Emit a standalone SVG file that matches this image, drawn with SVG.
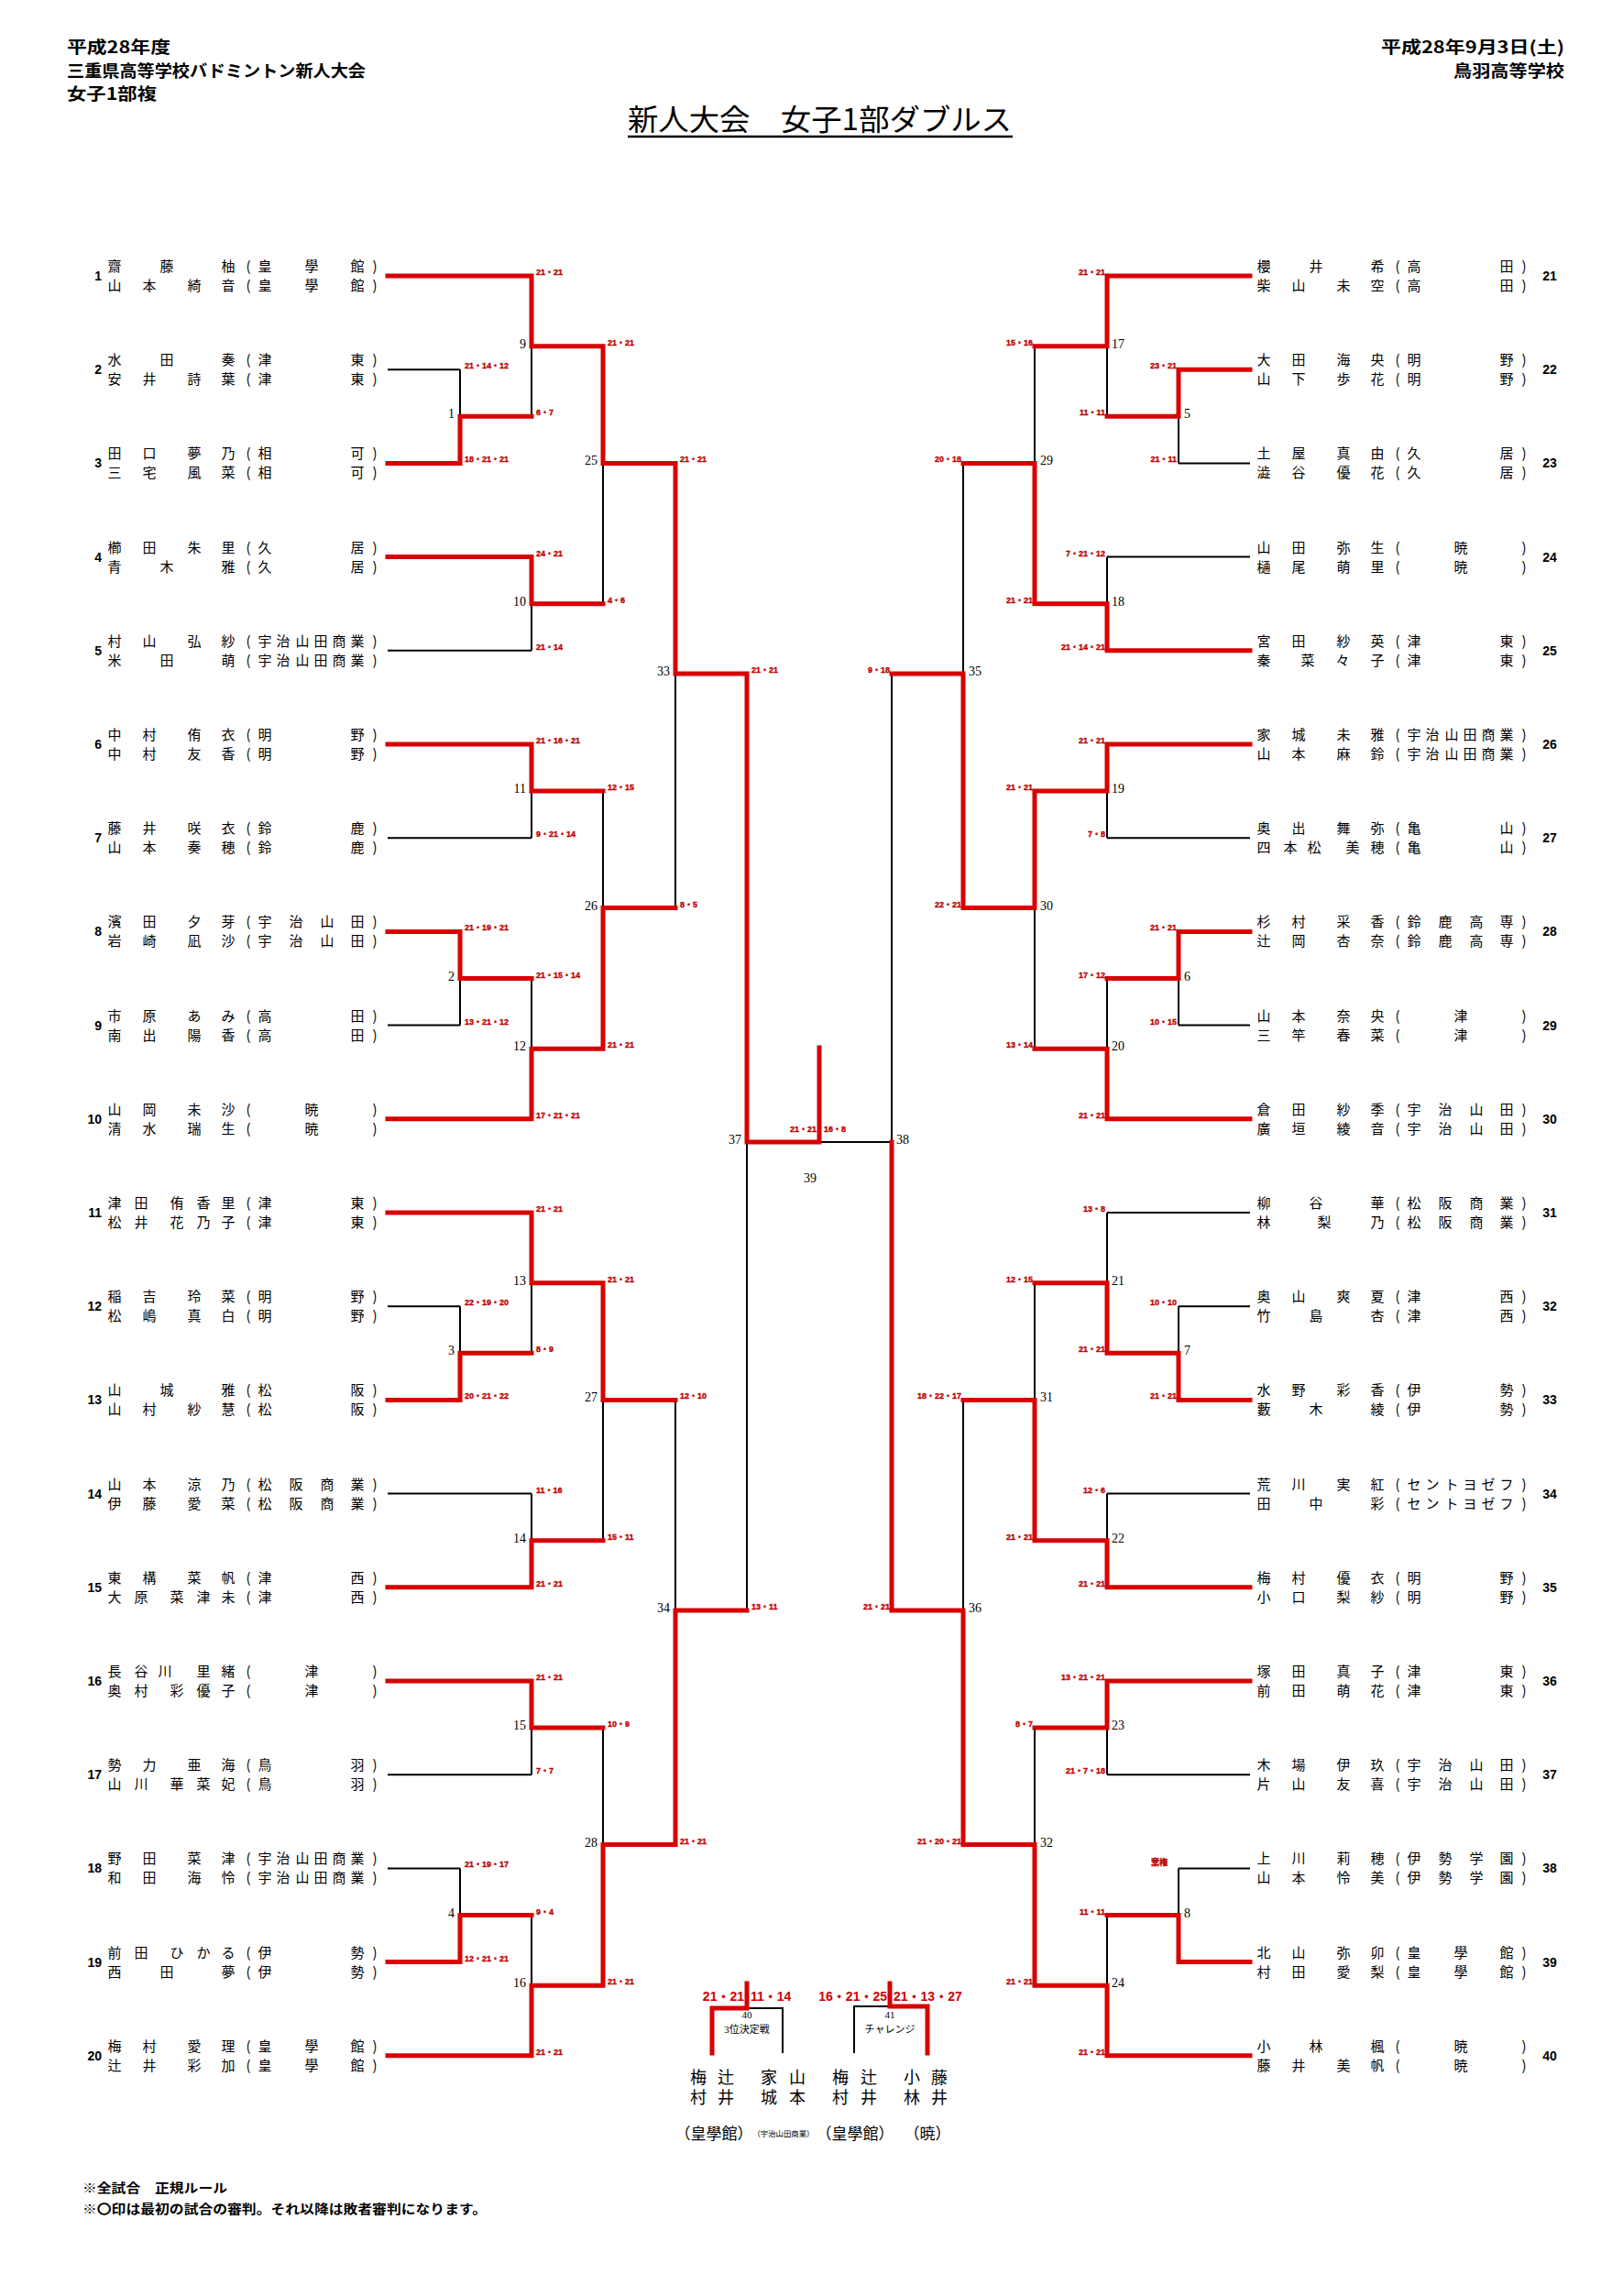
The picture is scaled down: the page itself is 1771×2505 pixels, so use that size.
<svg xmlns="http://www.w3.org/2000/svg" width="1771" height="2505" viewBox="0 0 1771 2505">
<style>
.bg{fill:#fff}
.hd{font-family:"Noto Sans CJK JP",sans-serif;font-weight:bold;font-size:18px;fill:#000}
.tt{font-family:"Noto Sans CJK JP",sans-serif;font-size:32px;fill:#000}
.nm{font-family:"Noto Sans CJK JP",sans-serif;font-size:15px;fill:#000;text-anchor:middle}
.nl{font-family:"Liberation Sans",Arial,sans-serif;font-weight:bold;font-size:14px;fill:#000;text-anchor:end}
.nr{font-family:"Liberation Sans",Arial,sans-serif;font-weight:bold;font-size:14px;fill:#000;text-anchor:middle}
.mn{font-family:"Liberation Serif","Times New Roman",serif;font-size:14px;fill:#000}
.me{text-anchor:end}
.sc{font-family:"Liberation Sans","Noto Sans CJK JP",sans-serif;font-weight:bold;font-size:9px;fill:#c00000;stroke:#c00000;stroke-width:0.35}
.se{text-anchor:end}
.bs{font-family:"Liberation Sans","Noto Sans CJK JP",sans-serif;font-weight:bold;font-size:14px;fill:#d00000}
.bl{font-family:"Liberation Serif","Noto Sans CJK JP",serif;font-size:11px;fill:#000;text-anchor:middle}
.bn{font-family:"Noto Sans CJK JP",sans-serif;font-size:18px;fill:#000;text-anchor:middle}
.bsch{font-family:"Noto Sans CJK JP",sans-serif;font-size:17px;fill:#000;text-anchor:middle}
.ft{font-family:"Noto Sans CJK JP",sans-serif;font-weight:bold;font-size:14px;fill:#000}
.k{fill:none;stroke:#000;stroke-width:2}
.r{fill:none;stroke:#d80000;stroke-width:5;stroke-linecap:square;stroke-linejoin:miter}
</style>
<rect class="bg" x="0" y="0" width="1771" height="2505"/>

<g id="header">
<text class="hd" x="73" y="58" textLength="113" lengthAdjust="spacingAndGlyphs">平成28年度</text>
<text class="hd" x="73" y="84" textLength="326" lengthAdjust="spacingAndGlyphs">三重県高等学校バドミントン新人大会</text>
<text class="hd" x="73" y="109" textLength="98" lengthAdjust="spacingAndGlyphs">女子1部複</text>
<text class="hd" x="1507" y="58" textLength="200" lengthAdjust="spacingAndGlyphs">平成28年9月3日(土)</text>
<text class="hd" x="1586" y="84" textLength="121" lengthAdjust="spacingAndGlyphs">鳥羽高等学校</text>
<text class="tt" x="685" y="142" textLength="419" lengthAdjust="spacingAndGlyphs">新人大会　女子1部ダブルス</text>
<line x1="685" y1="149" x2="1105" y2="149" stroke="#000" stroke-width="2.5"/>
</g>

<!-- Left entries -->
<g id="e1" transform="translate(0,301)"><text class="nl" x="111" y="5">1</text><text class="nm" x="125 182 249 271 289 340 390 409" y="-5">齋藤柚(皇學館)</text><text class="nm" x="125 163 212 249 271 289 340 390 409" y="16">山本綺音(皇學館)</text></g>
<g id="e2" transform="translate(0,403.2)"><text class="nl" x="111" y="5">2</text><text class="nm" x="125 182 249 271 289 390 409" y="-5">水田奏(津東)</text><text class="nm" x="125 163 212 249 271 289 390 409" y="16">安井詩葉(津東)</text></g>
<g id="e3" transform="translate(0,505.4)"><text class="nl" x="111" y="5">3</text><text class="nm" x="125 163 212 249 271 289 390 409" y="-5">田口夢乃(相可)</text><text class="nm" x="125 163 212 249 271 289 390 409" y="16">三宅風菜(相可)</text></g>
<g id="e4" transform="translate(0,607.6)"><text class="nl" x="111" y="5">4</text><text class="nm" x="125 163 212 249 271 289 390 409" y="-5">櫛田朱里(久居)</text><text class="nm" x="125 182 249 271 289 390 409" y="16">青木雅(久居)</text></g>
<g id="e5" transform="translate(0,709.8)"><text class="nl" x="111" y="5">5</text><text class="nm" x="125 163 212 249 271 289 309 330 350 370 390 409" y="-5">村山弘紗(宇治山田商業)</text><text class="nm" x="125 182 249 271 289 309 330 350 370 390 409" y="16">米田萌(宇治山田商業)</text></g>
<g id="e6" transform="translate(0,812)"><text class="nl" x="111" y="5">6</text><text class="nm" x="125 163 212 249 271 289 390 409" y="-5">中村侑衣(明野)</text><text class="nm" x="125 163 212 249 271 289 390 409" y="16">中村友香(明野)</text></g>
<g id="e7" transform="translate(0,914.2)"><text class="nl" x="111" y="5">7</text><text class="nm" x="125 163 212 249 271 289 390 409" y="-5">藤井咲衣(鈴鹿)</text><text class="nm" x="125 163 212 249 271 289 390 409" y="16">山本奏穂(鈴鹿)</text></g>
<g id="e8" transform="translate(0,1016.4)"><text class="nl" x="111" y="5">8</text><text class="nm" x="125 163 212 249 271 289 323 357 390 409" y="-5">濱田夕芽(宇治山田)</text><text class="nm" x="125 163 212 249 271 289 323 357 390 409" y="16">岩崎凪沙(宇治山田)</text></g>
<g id="e9" transform="translate(0,1118.6)"><text class="nl" x="111" y="5">9</text><text class="nm" x="125 163 212 249 271 289 390 409" y="-5">市原あみ(高田)</text><text class="nm" x="125 163 212 249 271 289 390 409" y="16">南出陽香(高田)</text></g>
<g id="e10" transform="translate(0,1220.8)"><text class="nl" x="111" y="5">10</text><text class="nm" x="125 163 212 249 271 340 409" y="-5">山岡未沙(暁)</text><text class="nm" x="125 163 212 249 271 340 409" y="16">清水瑞生(暁)</text></g>
<g id="e11" transform="translate(0,1323)"><text class="nl" x="111" y="5">11</text><text class="nm" x="125 154 193 222 249 271 289 390 409" y="-5">津田侑香里(津東)</text><text class="nm" x="125 154 193 222 249 271 289 390 409" y="16">松井花乃子(津東)</text></g>
<g id="e12" transform="translate(0,1425.2)"><text class="nl" x="111" y="5">12</text><text class="nm" x="125 163 212 249 271 289 390 409" y="-5">稲吉玲菜(明野)</text><text class="nm" x="125 163 212 249 271 289 390 409" y="16">松嶋真白(明野)</text></g>
<g id="e13" transform="translate(0,1527.4)"><text class="nl" x="111" y="5">13</text><text class="nm" x="125 182 249 271 289 390 409" y="-5">山城雅(松阪)</text><text class="nm" x="125 163 212 249 271 289 390 409" y="16">山村紗慧(松阪)</text></g>
<g id="e14" transform="translate(0,1629.6)"><text class="nl" x="111" y="5">14</text><text class="nm" x="125 163 212 249 271 289 323 357 390 409" y="-5">山本涼乃(松阪商業)</text><text class="nm" x="125 163 212 249 271 289 323 357 390 409" y="16">伊藤愛菜(松阪商業)</text></g>
<g id="e15" transform="translate(0,1731.8)"><text class="nl" x="111" y="5">15</text><text class="nm" x="125 163 212 249 271 289 390 409" y="-5">東構菜帆(津西)</text><text class="nm" x="125 154 193 222 249 271 289 390 409" y="16">大原菜津未(津西)</text></g>
<g id="e16" transform="translate(0,1834)"><text class="nl" x="111" y="5">16</text><text class="nm" x="125 154 180 222 249 271 340 409" y="-5">長谷川里緒(津)</text><text class="nm" x="125 154 193 222 249 271 340 409" y="16">奥村彩優子(津)</text></g>
<g id="e17" transform="translate(0,1936.2)"><text class="nl" x="111" y="5">17</text><text class="nm" x="125 163 212 249 271 289 390 409" y="-5">勢力亜海(鳥羽)</text><text class="nm" x="125 154 193 222 249 271 289 390 409" y="16">山川華菜妃(鳥羽)</text></g>
<g id="e18" transform="translate(0,2038.4)"><text class="nl" x="111" y="5">18</text><text class="nm" x="125 163 212 249 271 289 309 330 350 370 390 409" y="-5">野田菜津(宇治山田商業)</text><text class="nm" x="125 163 212 249 271 289 309 330 350 370 390 409" y="16">和田海怜(宇治山田商業)</text></g>
<g id="e19" transform="translate(0,2140.6)"><text class="nl" x="111" y="5">19</text><text class="nm" x="125 154 193 222 249 271 289 390 409" y="-5">前田ひかる(伊勢)</text><text class="nm" x="125 182 249 271 289 390 409" y="16">西田夢(伊勢)</text></g>
<g id="e20" transform="translate(0,2242.8)"><text class="nl" x="111" y="5">20</text><text class="nm" x="125 163 212 249 271 289 340 390 409" y="-5">梅村愛理(皇學館)</text><text class="nm" x="125 163 212 249 271 289 340 390 409" y="16">辻井彩加(皇學館)</text></g>

<!-- Right entries -->
<g id="e21" transform="translate(1254,301)"><text class="nr" x="437" y="5">21</text><text class="nm" x="125 182 249 271 289 390 409" y="-5">櫻井希(高田)</text><text class="nm" x="125 163 212 249 271 289 390 409" y="16">柴山未空(高田)</text></g>
<g id="e22" transform="translate(1254,403.2)"><text class="nr" x="437" y="5">22</text><text class="nm" x="125 163 212 249 271 289 390 409" y="-5">大田海央(明野)</text><text class="nm" x="125 163 212 249 271 289 390 409" y="16">山下歩花(明野)</text></g>
<g id="e23" transform="translate(1254,505.4)"><text class="nr" x="437" y="5">23</text><text class="nm" x="125 163 212 249 271 289 390 409" y="-5">土屋真由(久居)</text><text class="nm" x="125 163 212 249 271 289 390 409" y="16">澁谷優花(久居)</text></g>
<g id="e24" transform="translate(1254,607.6)"><text class="nr" x="437" y="5">24</text><text class="nm" x="125 163 212 249 271 340 409" y="-5">山田弥生(暁)</text><text class="nm" x="125 163 212 249 271 340 409" y="16">樋尾萌里(暁)</text></g>
<g id="e25" transform="translate(1254,709.8)"><text class="nr" x="437" y="5">25</text><text class="nm" x="125 163 212 249 271 289 390 409" y="-5">宮田紗英(津東)</text><text class="nm" x="125 173 211 249 271 289 390 409" y="16">秦菜々子(津東)</text></g>
<g id="e26" transform="translate(1254,812)"><text class="nr" x="437" y="5">26</text><text class="nm" x="125 163 212 249 271 289 309 330 350 370 390 409" y="-5">家城未雅(宇治山田商業)</text><text class="nm" x="125 163 212 249 271 289 309 330 350 370 390 409" y="16">山本麻鈴(宇治山田商業)</text></g>
<g id="e27" transform="translate(1254,914.2)"><text class="nr" x="437" y="5">27</text><text class="nm" x="125 163 212 249 271 289 390 409" y="-5">奥出舞弥(亀山)</text><text class="nm" x="125 154 180 222 249 271 289 390 409" y="16">四本松美穂(亀山)</text></g>
<g id="e28" transform="translate(1254,1016.4)"><text class="nr" x="437" y="5">28</text><text class="nm" x="125 163 212 249 271 289 323 357 390 409" y="-5">杉村采香(鈴鹿高専)</text><text class="nm" x="125 163 212 249 271 289 323 357 390 409" y="16">辻岡杏奈(鈴鹿高専)</text></g>
<g id="e29" transform="translate(1254,1118.6)"><text class="nr" x="437" y="5">29</text><text class="nm" x="125 163 212 249 271 340 409" y="-5">山本奈央(津)</text><text class="nm" x="125 163 212 249 271 340 409" y="16">三竿春菜(津)</text></g>
<g id="e30" transform="translate(1254,1220.8)"><text class="nr" x="437" y="5">30</text><text class="nm" x="125 163 212 249 271 289 323 357 390 409" y="-5">倉田紗季(宇治山田)</text><text class="nm" x="125 163 212 249 271 289 323 357 390 409" y="16">廣垣綾音(宇治山田)</text></g>
<g id="e31" transform="translate(1254,1323)"><text class="nr" x="437" y="5">31</text><text class="nm" x="125 182 249 271 289 323 357 390 409" y="-5">柳谷華(松阪商業)</text><text class="nm" x="125 191 249 271 289 323 357 390 409" y="16">林梨乃(松阪商業)</text></g>
<g id="e32" transform="translate(1254,1425.2)"><text class="nr" x="437" y="5">32</text><text class="nm" x="125 163 212 249 271 289 390 409" y="-5">奥山爽夏(津西)</text><text class="nm" x="125 182 249 271 289 390 409" y="16">竹島杏(津西)</text></g>
<g id="e33" transform="translate(1254,1527.4)"><text class="nr" x="437" y="5">33</text><text class="nm" x="125 163 212 249 271 289 390 409" y="-5">水野彩香(伊勢)</text><text class="nm" x="125 182 249 271 289 390 409" y="16">藪木綾(伊勢)</text></g>
<g id="e34" transform="translate(1254,1629.6)"><text class="nr" x="437" y="5">34</text><text class="nm" x="125 163 212 249 271 289 309 330 350 370 390 409" y="-5">荒川実紅(セントヨゼフ)</text><text class="nm" x="125 182 249 271 289 309 330 350 370 390 409" y="16">田中彩(セントヨゼフ)</text></g>
<g id="e35" transform="translate(1254,1731.8)"><text class="nr" x="437" y="5">35</text><text class="nm" x="125 163 212 249 271 289 390 409" y="-5">梅村優衣(明野)</text><text class="nm" x="125 163 212 249 271 289 390 409" y="16">小口梨紗(明野)</text></g>
<g id="e36" transform="translate(1254,1834)"><text class="nr" x="437" y="5">36</text><text class="nm" x="125 163 212 249 271 289 390 409" y="-5">塚田真子(津東)</text><text class="nm" x="125 163 212 249 271 289 390 409" y="16">前田萌花(津東)</text></g>
<g id="e37" transform="translate(1254,1936.2)"><text class="nr" x="437" y="5">37</text><text class="nm" x="125 163 212 249 271 289 323 357 390 409" y="-5">木場伊玖(宇治山田)</text><text class="nm" x="125 163 212 249 271 289 323 357 390 409" y="16">片山友喜(宇治山田)</text></g>
<g id="e38" transform="translate(1254,2038.4)"><text class="nr" x="437" y="5">38</text><text class="nm" x="125 163 212 249 271 289 323 357 390 409" y="-5">上川莉穂(伊勢学園)</text><text class="nm" x="125 163 212 249 271 289 323 357 390 409" y="16">山本怜美(伊勢学園)</text></g>
<g id="e39" transform="translate(1254,2140.6)"><text class="nr" x="437" y="5">39</text><text class="nm" x="125 163 212 249 271 289 340 390 409" y="-5">北山弥卯(皇學館)</text><text class="nm" x="125 163 212 249 271 289 340 390 409" y="16">村田愛梨(皇學館)</text></g>
<g id="e40" transform="translate(1254,2242.8)"><text class="nr" x="437" y="5">40</text><text class="nm" x="125 182 249 271 340 409" y="-5">小林楓(暁)</text><text class="nm" x="125 163 212 249 271 340 409" y="16">藤井美帆(暁)</text></g>

<g id="connectors">
<path class="k" d="M423,403.2H502 M423,709.8H580 M423,914.2H580 M423,1118.6H502 M423,1425.2H502 M423,1629.6H580 M423,1936.2H580 M423,2038.4H502
M502,403.2V454.3 M502,1067.5V1118.6 M502,1425.2V1476.3 M502,2038.4V2089.5
M580,377.65V454.3 M580,658.7V709.8 M580,863.1V914.2 M580,1067.5V1144.15 M580,1399.65V1476.3 M580,1629.6V1680.7 M580,1885.1V1936.2 M580,2089.5V2166.15
M658,505.4V658.7 M658,863.1V990.6 M658,1527.4V1680.7 M658,1885.1V2012.6
M737,735V990.6 M737,1527.4V1757 M815,1246V1757 M894,1246H973
M1364,505.4H1286 M1364,607.6H1208 M1364,914.2H1208 M1364,1118.6H1286 M1364,1323H1208 M1364,1425.2H1286 M1364,1629.6H1208 M1364,1936.2H1208 M1364,2038.4H1286
M1286,454.3V505.4 M1286,1067.5V1118.6 M1286,1425.2V1476.3 M1286,2038.4V2089.5
M1208,377.65V454.3 M1208,607.6V658.7 M1208,863.1V914.2 M1208,1067.5V1144.15 M1208,1323V1399.65 M1208,1629.6V1680.7 M1208,1885.1V1936.2 M1208,2089.5V2166.15
M1129,377.65V505.4 M1129,990.6V1144.15 M1129,1399.65V1527.4 M1129,1885.1V2012.6
M1051,505.4V735 M1051,1527.4V1757 M973,735V1246"/>
<path class="r" d="M423,301H580V377.65H658V505.4H737V735H815V1246H894V1143"/>
<path class="r" d="M423,505.4H502V454.3H580"/>
<path class="r" d="M423,607.6H580V658.7H658"/>
<path class="r" d="M423,812H580V863.1H658"/>
<path class="r" d="M423,1016.4H502V1067.5H580"/>
<path class="r" d="M423,1220.8H580V1144.15H658V990.6H737"/>
<path class="r" d="M423,1323H580V1399.65H658V1527.4H737"/>
<path class="r" d="M423,1527.4H502V1476.3H580"/>
<path class="r" d="M423,1731.8H580V1680.7H658"/>
<path class="r" d="M423,1834H580V1885.1H658"/>
<path class="r" d="M423,2140.6H502V2089.5H580"/>
<path class="r" d="M423,2242.8H580V2166.15H658V2012.6H737V1757H815"/>
<path class="r" d="M1364,301H1208V377.65H1129"/>
<path class="r" d="M1364,403.2H1286V454.3H1208"/>
<path class="r" d="M1364,709.8H1208V658.7H1129V505.4H1051"/>
<path class="r" d="M1364,812H1208V863.1H1129V990.6H1051V735H973"/>
<path class="r" d="M1364,1016.4H1286V1067.5H1208"/>
<path class="r" d="M1364,1220.8H1208V1144.15H1129"/>
<path class="r" d="M1364,1527.4H1286V1476.3H1208V1399.65H1129"/>
<path class="r" d="M1364,1731.8H1208V1680.7H1129V1527.4H1051"/>
<path class="r" d="M1364,1834H1208V1885.1H1129"/>
<path class="r" d="M1364,2140.6H1286V2089.5H1208"/>
<path class="r" d="M1364,2242.8H1208V2166.15H1129V2012.6H1051V1757H973V1246"/>
<path class="k" d="M815,2191H854V2240 M932,2240V2189H971"/>
<path class="r" d="M777,2240V2191H815V2164"/>
<path class="r" d="M1012,2240V2189H971V2164"/>
</g>

<!-- Left matches -->
<g id="m1"><text class="mn me" x="496" y="456.3">1</text><text class="sc" x="507" y="402.2">21・14・12</text><text class="sc" x="507" y="504.4">18・21・21</text></g>
<g id="m2"><text class="mn me" x="496" y="1069.5">2</text><text class="sc" x="507" y="1015.4">21・19・21</text><text class="sc" x="507" y="1117.6">13・21・12</text></g>
<g id="m3"><text class="mn me" x="496" y="1478.3">3</text><text class="sc" x="507" y="1424.2">22・19・20</text><text class="sc" x="507" y="1526.4">20・21・22</text></g>
<g id="m4"><text class="mn me" x="496" y="2091.5">4</text><text class="sc" x="507" y="2037.4">21・19・17</text><text class="sc" x="507" y="2139.6">12・21・21</text></g>
<g id="m9"><text class="mn me" x="574" y="379.65">9</text><text class="sc" x="585" y="300">21・21</text><text class="sc" x="585" y="453.3">6・7</text></g>
<g id="m10"><text class="mn me" x="574" y="660.7">10</text><text class="sc" x="585" y="606.6">24・21</text><text class="sc" x="585" y="708.8">21・14</text></g>
<g id="m11"><text class="mn me" x="574" y="865.1">11</text><text class="sc" x="585" y="811">21・16・21</text><text class="sc" x="585" y="913.2">9・21・14</text></g>
<g id="m12"><text class="mn me" x="574" y="1146.15">12</text><text class="sc" x="585" y="1066.5">21・15・14</text><text class="sc" x="585" y="1219.8">17・21・21</text></g>
<g id="m13"><text class="mn me" x="574" y="1401.65">13</text><text class="sc" x="585" y="1322">21・21</text><text class="sc" x="585" y="1475.3">8・9</text></g>
<g id="m14"><text class="mn me" x="574" y="1682.7">14</text><text class="sc" x="585" y="1628.6">11・16</text><text class="sc" x="585" y="1730.8">21・21</text></g>
<g id="m15"><text class="mn me" x="574" y="1887.1">15</text><text class="sc" x="585" y="1833">21・21</text><text class="sc" x="585" y="1935.2">7・7</text></g>
<g id="m16"><text class="mn me" x="574" y="2168.15">16</text><text class="sc" x="585" y="2088.5">9・4</text><text class="sc" x="585" y="2241.8">21・21</text></g>
<g id="m25"><text class="mn me" x="652" y="507.4">25</text><text class="sc" x="663" y="376.65">21・21</text><text class="sc" x="663" y="657.7">4・6</text></g>
<g id="m26"><text class="mn me" x="652" y="992.6">26</text><text class="sc" x="663" y="862.1">12・15</text><text class="sc" x="663" y="1143.15">21・21</text></g>
<g id="m27"><text class="mn me" x="652" y="1529.4">27</text><text class="sc" x="663" y="1398.65">21・21</text><text class="sc" x="663" y="1679.7">15・11</text></g>
<g id="m28"><text class="mn me" x="652" y="2014.6">28</text><text class="sc" x="663" y="1884.1">10・9</text><text class="sc" x="663" y="2165.15">21・21</text></g>
<g id="m33"><text class="mn me" x="731" y="737">33</text><text class="sc" x="742" y="504.4">21・21</text><text class="sc" x="742" y="989.6">8・5</text></g>
<g id="m34"><text class="mn me" x="731" y="1759">34</text><text class="sc" x="742" y="1526.4">12・10</text><text class="sc" x="742" y="2011.6">21・21</text></g>
<g id="m37"><text class="mn me" x="809" y="1248">37</text><text class="sc" x="820" y="734">21・21</text><text class="sc" x="820" y="1756">13・11</text></g>
<g id="m39"><text class="mn" x="884" y="1290" text-anchor="middle">39</text><text class="sc se" x="891" y="1235">21・21</text><text class="sc" x="899" y="1235">16・8</text></g>

<!-- Right matches -->
<g id="m5"><text class="mn" x="1292" y="456.3">5</text><text class="sc se" x="1284" y="402.2">23・21</text><text class="sc se" x="1284" y="504.4">21・11</text></g>
<g id="m6"><text class="mn" x="1292" y="1069.5">6</text><text class="sc se" x="1284" y="1015.4">21・21</text><text class="sc se" x="1284" y="1117.6">10・15</text></g>
<g id="m7"><text class="mn" x="1292" y="1478.3">7</text><text class="sc se" x="1284" y="1424.2">10・10</text><text class="sc se" x="1284" y="1526.4">21・21</text></g>
<g id="m8"><text class="mn" x="1292" y="2091.5">8</text><text class="sc se" x="1274" y="2035.4">棄権</text></g>
<g id="m17"><text class="mn" x="1213" y="379.65">17</text><text class="sc se" x="1206" y="300">21・21</text><text class="sc se" x="1206" y="453.3">11・11</text></g>
<g id="m18"><text class="mn" x="1213" y="660.7">18</text><text class="sc se" x="1206" y="606.6">7・21・12</text><text class="sc se" x="1206" y="708.8">21・14・21</text></g>
<g id="m19"><text class="mn" x="1213" y="865.1">19</text><text class="sc se" x="1206" y="811">21・21</text><text class="sc se" x="1206" y="913.2">7・8</text></g>
<g id="m20"><text class="mn" x="1213" y="1146.15">20</text><text class="sc se" x="1206" y="1066.5">17・12</text><text class="sc se" x="1206" y="1219.8">21・21</text></g>
<g id="m21"><text class="mn" x="1213" y="1401.65">21</text><text class="sc se" x="1206" y="1322">13・8</text><text class="sc se" x="1206" y="1475.3">21・21</text></g>
<g id="m22"><text class="mn" x="1213" y="1682.7">22</text><text class="sc se" x="1206" y="1628.6">12・6</text><text class="sc se" x="1206" y="1730.8">21・21</text></g>
<g id="m23"><text class="mn" x="1213" y="1887.1">23</text><text class="sc se" x="1206" y="1833">13・21・21</text><text class="sc se" x="1206" y="1935.2">21・7・18</text></g>
<g id="m24"><text class="mn" x="1213" y="2168.15">24</text><text class="sc se" x="1206" y="2088.5">11・11</text><text class="sc se" x="1206" y="2241.8">21・21</text></g>
<g id="m29"><text class="mn" x="1135" y="507.4">29</text><text class="sc se" x="1127" y="376.65">15・16</text><text class="sc se" x="1127" y="657.7">21・21</text></g>
<g id="m30"><text class="mn" x="1135" y="992.6">30</text><text class="sc se" x="1127" y="862.1">21・21</text><text class="sc se" x="1127" y="1143.15">13・14</text></g>
<g id="m31"><text class="mn" x="1135" y="1529.4">31</text><text class="sc se" x="1127" y="1398.65">12・15</text><text class="sc se" x="1127" y="1679.7">21・21</text></g>
<g id="m32"><text class="mn" x="1135" y="2014.6">32</text><text class="sc se" x="1127" y="1884.1">8・7</text><text class="sc se" x="1127" y="2165.15">21・21</text></g>
<g id="m35"><text class="mn" x="1057" y="737">35</text><text class="sc se" x="1049" y="504.4">20・18</text><text class="sc se" x="1049" y="989.6">22・21</text></g>
<g id="m36"><text class="mn" x="1057" y="1759">36</text><text class="sc se" x="1049" y="1526.4">18・22・17</text><text class="sc se" x="1049" y="2011.6">21・20・21</text></g>
<g id="m38"><text class="mn" x="978" y="1248">38</text><text class="sc se" x="971" y="734">9・18</text><text class="sc se" x="971" y="1756">21・21</text></g>

<!-- Bottom playoff matches -->
<g id="m40"><text class="bs" x="812" y="2183" text-anchor="end">21・21</text><text class="bs" x="819" y="2183">11・14</text><text class="bl" x="815" y="2202">40</text><text class="bl" x="815" y="2218">3位決定戦</text></g>
<g id="m41"><text class="bs" x="968" y="2183" text-anchor="end">16・21・25</text><text class="bs" x="975" y="2183">21・13・27</text><text class="bl" x="971" y="2202">41</text><text class="bl" x="971" y="2218">チャレンジ</text></g>
<g id="b1"><text class="bn" x="762" y="2273">梅</text><text class="bn" x="762" y="2295">村</text><text class="bn" x="792" y="2273">辻</text><text class="bn" x="792" y="2295">井</text><text class="bsch" x="779" y="2334">（皇學館）</text></g>
<g id="b2"><text class="bn" x="839" y="2273">家</text><text class="bn" x="839" y="2295">城</text><text class="bn" x="870" y="2273">山</text><text class="bn" x="870" y="2295">本</text><text class="bsch" x="855" y="2331" style="font-size:8.4px">（宇治山田商業）</text></g>
<g id="b3"><text class="bn" x="917" y="2273">梅</text><text class="bn" x="917" y="2295">村</text><text class="bn" x="948" y="2273">辻</text><text class="bn" x="948" y="2295">井</text><text class="bsch" x="933" y="2334">（皇學館）</text></g>
<g id="b4"><text class="bn" x="995" y="2273">小</text><text class="bn" x="995" y="2295">林</text><text class="bn" x="1025" y="2273">藤</text><text class="bn" x="1025" y="2295">井</text><text class="bsch" x="1012" y="2334">（暁）</text></g>

<g id="footer">
<text class="ft" x="90" y="2392" textLength="158" lengthAdjust="spacingAndGlyphs">※全試合　正規ルール</text>
<text class="ft" x="90" y="2415" textLength="441" lengthAdjust="spacingAndGlyphs">※〇印は最初の試合の審判。それ以降は敗者審判になります。</text>
</g>
</svg>
